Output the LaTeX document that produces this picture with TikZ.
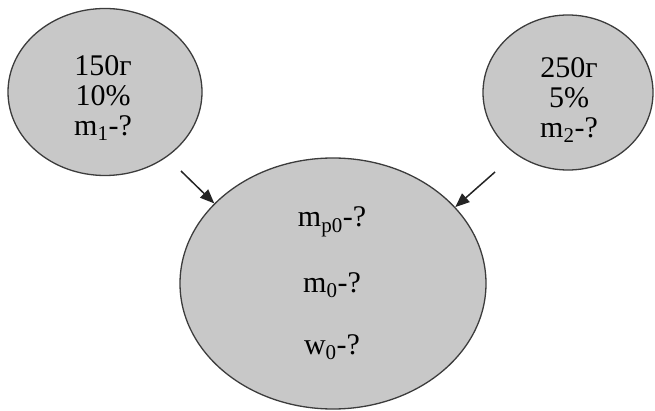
\documentclass[tikz,border=0pt]{standalone}
\usepackage{fontspec}
\setmainfont{Liberation Serif}
\usepackage{xcolor}
\definecolor{cFill}{HTML}{C8C8C8}
\definecolor{cLine}{HTML}{3C3C3C}
\usepackage{tikz}
\usetikzlibrary{arrows.meta,shapes.geometric}
\tikzset{
  node-blob/.style={ellipse,draw=cLine,line width=1.3pt,fill=cFill,inner sep=0pt},
  node-txt/.style={align=center,font=\fontsize{30}{30}\selectfont},
  arrow/.style={-{Triangle[length=5mm,width=4mm]},line width=1.5pt,draw=cLine!60!black},
}

\begin{document}
\begin{tikzpicture}[x=1pt,y=-1pt]
  \useasboundingbox (0,0) rectangle (655,411);
  \node[node-blob,minimum width=194pt,minimum height=167pt] at (105,92) (sol1) {};
  \node[node-blob,minimum width=170pt,minimum height=155pt] at (568,92.5) (sol2) {};
  \node[node-blob,minimum width=306pt,minimum height=251pt] at (333,283.5) (mix) {};
  % texts
  \node[node-txt] at (103,98) (t1) {150г\\10\%\\m\textsubscript{1}-?};
  \node[node-txt] at (569,100) (t2) {250г\\5\%\\m\textsubscript{2}-?};
  \node[node-txt] at (332,222) (mp0) {m\textsubscript{p0}-?};
  \node[node-txt] at (332,285) (m0) {m\textsubscript{0}-?};
  \node[node-txt] at (332,347) (w0) {w\textsubscript{0}-?};
  \coordinate (a1) at (181,171);
  \coordinate (a2) at (495,172);
  \draw[arrow] (a1) -- (mix.146);
  \draw[arrow] (a2) -- (mix.32);
\end{tikzpicture}
\end{document}
